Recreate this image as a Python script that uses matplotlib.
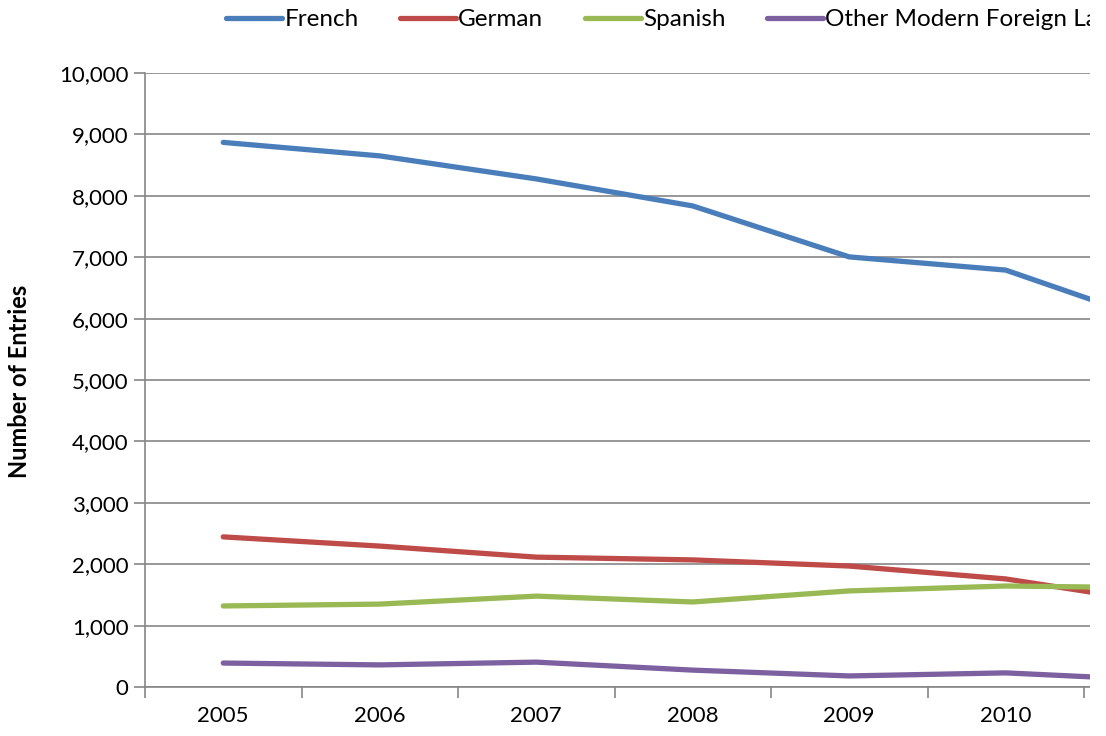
import matplotlib
matplotlib.use("Agg")
import matplotlib.pyplot as plt
from matplotlib.patches import Rectangle

years = ["2005", "2006", "2007", "2008", "2009", "2010", "2011"]
french = [8870, 8650, 8275, 7835, 7005, 6790, 5910]
german = [2445, 2295, 2115, 2070, 1970, 1760, 1365]
spanish = [1320, 1350, 1480, 1385, 1565, 1645, 1615]
other = [390, 360, 405, 275, 180, 230, 110]

names = ["French", "German", "Spanish", "Other Modern Foreign Languages"]
colors = ["#4A7EBB", "#BE4B48", "#98B954", "#7D60A0"]

plt.rcParams['font.family'] = ['Lato', 'DejaVu Sans']

W, H = 1106, 736
fig = plt.figure(figsize=(W / 100, H / 100), dpi=100)
# axes run past the right edge of the picture (chart is cropped)
ax = fig.add_axes([145 / W, 1 - 687 / H, 7 * 156.5 / W, (687 - 73) / H])

x = list(range(len(years)))
for vals, nm, c in zip([french, german, spanish, other], names, colors):
    ax.plot(x, vals, color=c, lw=3.8, label=nm, solid_capstyle='round')

ax.set_xlim(-0.5, len(years) - 0.5)
ax.set_ylim(0, 10000)
ax.set_yticks(range(0, 10001, 1000))
ax.set_yticklabels([f"{v:,}" for v in range(0, 10001, 1000)], fontsize=16)
ax.set_xticks(x)
ax.set_xticklabels(years, fontsize=16)
ax.set_xticks([i - 0.5 for i in range(len(years) + 1)], minor=True)
ax.tick_params(axis='x', which='major', length=0, pad=14)
ax.tick_params(axis='x', which='minor', length=8, color='#868686', width=1.2)
ax.tick_params(axis='y', length=8, color='#868686', width=1.2, pad=4)
ax.grid(axis='y', color='#868686', lw=1.2)
ax.set_axisbelow(True)
for s in ['top', 'right']:
    ax.spines[s].set_visible(False)
for s in ['left', 'bottom']:
    ax.spines[s].set_color('#868686')
    ax.spines[s].set_linewidth(1.2)

fig.text(20 / W, 1 - 381 / H, "Number of Entries", rotation=90, fontsize=17,
         fontweight='bold', ha='center', va='center')

fig.legend(loc='upper left', bbox_to_anchor=(226 / W, 1 - 9 / H), ncol=4, frameon=False,
           fontsize=17.5, handlelength=2.3, handletextpad=0.1, columnspacing=1.7,
           borderpad=0, borderaxespad=0)

# crop at the right edge like the reference
fig.add_artist(Rectangle((1090 / W, 0), 1, 1, transform=fig.transFigure,
                         facecolor='white', edgecolor='none', zorder=100))

fig.savefig("out.png", dpi=100)
